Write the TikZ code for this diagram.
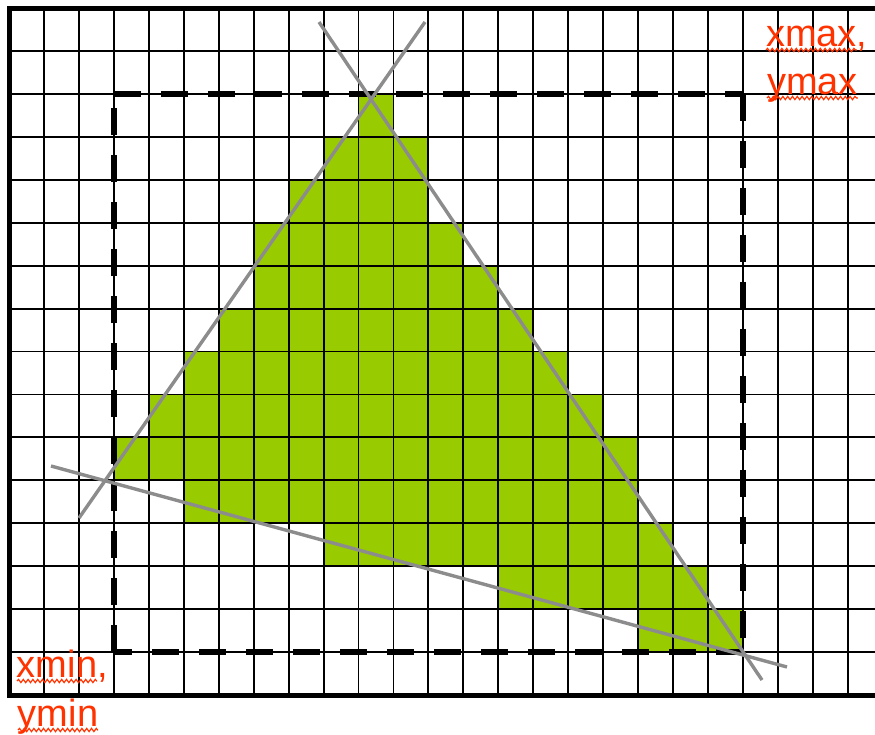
\documentclass[tikz,border=0pt]{standalone}
\usepackage{fontspec}
\newfontfamily\arialfont{Liberation Sans}
\usetikzlibrary{decorations.pathmorphing}
\definecolor{leaf}{HTML}{99CC00}
\definecolor{redtxt}{HTML}{FF3300}
\definecolor{guide}{HTML}{8C8C8C}
\begin{document}
\begin{tikzpicture}[x=0.5pt,y=-0.5pt,
  gridline/.style={line width=0.95pt,black},
  border/.style={line width=2.5pt,black},
  bbox/.style={line width=3pt,black,dash pattern=on 13.5pt off 10pt},
  guideline/.style={line width=1.7pt,guide},
  lbl/.style={anchor=base west,inner sep=0pt,outer sep=0pt,text=redtxt,font=\arialfont\fontsize{19pt}{24pt}\selectfont},
  wavy/.style={redtxt,line width=0.6pt,decorate,decoration={snake,amplitude=0.8pt,segment length=2.4pt}}]
\fill[white] (0,0) rectangle (875,735);
\useasboundingbox (0,0) rectangle (875,735);
\begin{scope}[shift={(4.5pt,-4pt)},x=17.475pt,y=-21.47pt]
  \foreach \r/\a/\b in {2/10/10,3/9/11,4/8/11,5/7/12,6/7/13,7/6/14,8/5/15,9/4/16,10/3/17,11/5/17,12/9/18,13/14/19,14/18/20}
    \fill[leaf] (\a,\r) rectangle (\b+1,\r+1);
  \foreach \c in {1,...,24}
    \draw[gridline] (\c,0) -- (\c,16);
  \foreach \r in {1,...,15}
    \draw[gridline] (0,\r) -- (24.8,\r);
  \draw[border] (24.8,0) -- (0,0) -- (0,16) -- (24.8,16);
  \coordinate (TL) at (3,2);
  \coordinate (TR) at (21,2);
  \coordinate (BR) at (21,15);
  \coordinate (BL) at (3,15);
  \draw[bbox] (TL) -- (TR);
  \draw[bbox] (TR) -- (BR);
  \draw[bbox] (BR) -- (BL);
  \draw[bbox] (BL) -- (TL);
\end{scope}
\coordinate (a1) at (79,518);
\coordinate (a2) at (425,22);
\coordinate (b1) at (319,22);
\coordinate (b2) at (762,680);
\coordinate (c1) at (51,466);
\coordinate (c2) at (787,667);
\draw[guideline] (a1) -- (a2);
\draw[guideline] (b1) -- (b2);
\draw[guideline] (c1) -- (c2);
\node[lbl] (xmaxw) at (766,46) {xmax};
\node[lbl] (xmaxc) at (xmaxw.base east) {,};
\node[lbl] (ymaxw) at (767,94) {ymax};
\node[lbl] (xminw) at (17,677) {xmin};
\node[lbl] (xminc) at (xminw.base east) {,};
\node[lbl] (yminw) at (18,726) {ymin};
\foreach \w in {xmaxw,ymaxw,xminw,yminw}
  \draw[wavy] ([yshift=-2pt]\w.base west) -- ([yshift=-2pt]\w.base east);
\end{tikzpicture}
\end{document}
